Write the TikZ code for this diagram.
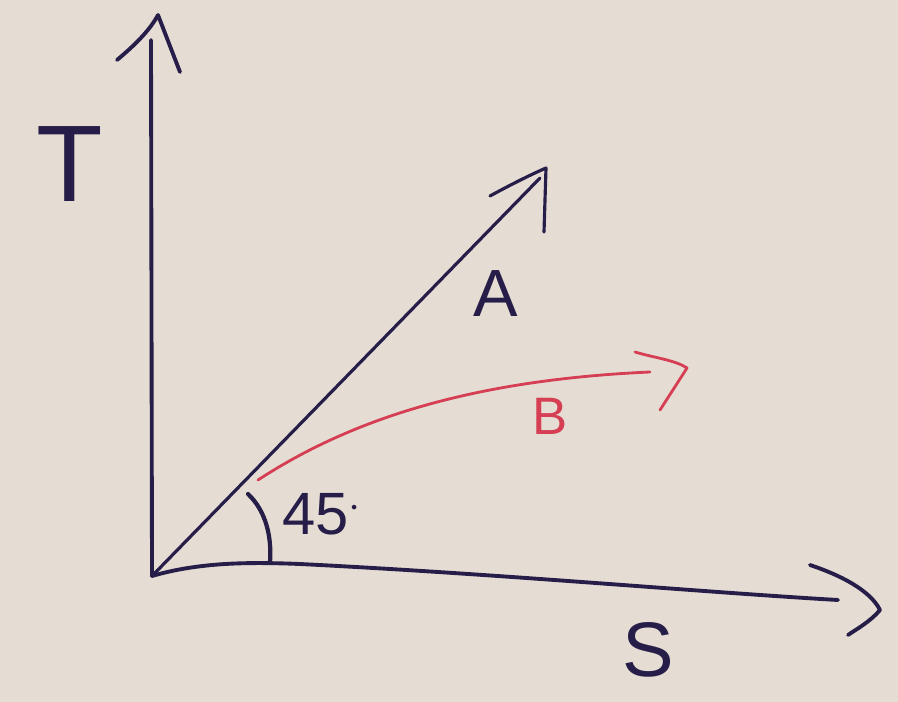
\documentclass[tikz,border=0pt]{standalone}
\usepackage{fontspec}
\setmainfont{Liberation Sans}
\definecolor{paper}{RGB}{229,221,211}
\definecolor{ink}{RGB}{38,30,72}
\definecolor{redink}{RGB}{214,62,84}
\tikzset{
  pen/.style={ink,line width=2.2pt,line cap=round,line join=round},
  redpen/.style={redink,line width=1.6pt,line cap=round,line join=round},
  lbl/.style={ink,inner sep=0pt}
}
\begin{document}
\begin{tikzpicture}[x=0.02cm,y=-0.02cm]
\fill[paper] (0,0) rectangle (898,702);
\useasboundingbox (0,0) rectangle (898,702);
\coordinate (O) at (152,576);
\coordinate (Ttop) at (151,40);
\coordinate (Send) at (838,600);
\coordinate (Aend) at (540,178);
\coordinate (Bstart) at (258,480);
\coordinate (Bend) at (650,372);
% axes
\draw[pen] (O) -- (Ttop);
\draw[pen] (117,60) .. controls (135,45) and (150,30) .. (158,15) -- (180,72);
\draw[pen] (O) .. controls (200,562) and (250,562) .. (300,564) .. controls (500,574) and (700,592) .. (Send);
\draw[pen] (810,565) .. controls (840,575) and (870,590) .. (880,610) .. controls (870,622) and (855,630) .. (848,635);
% line A
\draw[pen,line width=1.8pt] (O) -- (Aend);
\draw[pen,line width=1.8pt] (490,196) .. controls (510,185) and (530,175) .. (546,168) -- (544,232);
% curve B
\draw[redpen] (Bstart) .. controls (350,420) and (470,380) .. (Bend);
\draw[redpen] (635,352) .. controls (655,358) and (675,360) .. (687,368) -- (660,410);
% angle
\draw[ink,line width=2.4pt,line cap=round] (248,494) .. controls (265,510) and (272,535) .. (270,562);
\node[lbl,font=\fontsize{34}{34}\selectfont] (ang) at (322,514) {45\textsuperscript{$\cdot$}};
% labels
\node[lbl,font=\fontsize{62}{62}\selectfont] (T) at (70,164) {T};
\node[lbl,font=\fontsize{38}{38}\selectfont] (A) at (496,294) {A};
\node[lbl,text=redink,font=\fontsize{30}{30}\selectfont] (B) at (550,416) {B};
\node[lbl,font=\fontsize{44}{44}\selectfont] (S) at (648,650) {S};
\end{tikzpicture}
\end{document}
